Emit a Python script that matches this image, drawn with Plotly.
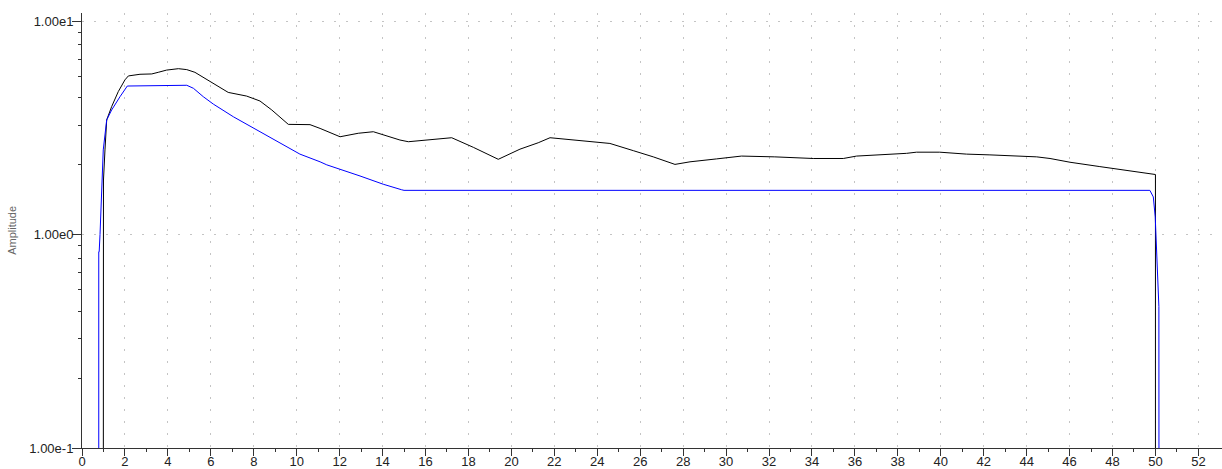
import plotly.graph_objects as go

# Frequency axis (x) and amplitude readings (y, log scale)
black_x = [0.99, 0.99, 1.0, 1.07, 1.15, 1.38, 1.69, 2.0, 2.16, 2.70, 3.25, 3.55, 3.94, 4.49,
           4.88, 5.26, 5.81, 6.35, 6.81, 7.67, 8.29, 8.84, 9.61, 10.62, 11.09, 12.02, 12.87,
           13.57, 14.81, 15.20, 16.13, 17.22, 18.23, 19.39, 20.40, 21.25, 21.80, 22.58, 23.43,
           24.59, 25.68, 26.61, 27.62, 28.32, 29.56, 30.72, 32.27, 34.06, 35.46, 36.08, 38.41,
           38.87, 39.95, 41.2, 42.29, 43.30, 44.47, 45.09, 46.02, 47.41, 48.03, 49.28, 50.0, 50.0]
black_y = [0.01, 1.0, 1.8, 2.49, 3.44, 3.97, 4.67, 5.3, 5.53, 5.63, 5.65, 5.75, 5.89, 5.98,
           5.92, 5.75, 5.33, 4.92, 4.63, 4.45, 4.22, 3.83, 3.28, 3.27, 3.14, 2.87, 2.98,
           3.03, 2.77, 2.72, 2.77, 2.84, 2.56, 2.25, 2.51, 2.69, 2.84, 2.79, 2.74,
           2.67, 2.47, 2.31, 2.13, 2.19, 2.26, 2.33, 2.31, 2.27, 2.27, 2.33, 2.40,
           2.43, 2.43, 2.38, 2.36, 2.34, 2.31, 2.27, 2.18, 2.08, 2.04, 1.96, 1.91, 0.01]

blue_x = [0.78, 0.78, 0.80, 0.84, 0.92, 0.99, 1.15, 1.38, 1.77, 2.11, 4.88, 5.19, 5.65, 6.12,
          7.05, 8.29, 9.53, 10.15, 11.09, 11.40, 12.95, 14.03, 14.89, 15.0, 49.74, 49.9,
          49.99, 50.02, 50.05, 50.10, 50.16, 50.17]
blue_y = [0.01, 0.83, 0.83, 1.0, 1.67, 2.49, 3.44, 3.83, 4.42, 4.96, 5.0, 4.84, 4.42, 4.08,
          3.56, 3.03, 2.56, 2.38, 2.19, 2.12, 1.88, 1.72, 1.62, 1.61, 1.61, 1.50,
          1.21, 1.0, 0.80, 0.60, 0.46, 0.01]

x_ticks = list(range(0, 53, 2))
x_minor = list(range(1, 53, 2))
y_ticks = [0.1, 1, 10]
y_ticktext = ["1.00e-1", "1.00e0", "1.00e1"]
y_minor = [1 + 1.125 * k for k in range(1, 8)] + [10 + 11.25 * k for k in range(1, 8)] \
    + [0.1 + 0.1125 * k for k in range(1, 8)]

font_name = "Liberation Sans, Arial, sans-serif"

fig = go.Figure()
fig.add_trace(go.Scatter(x=black_x, y=black_y, mode="lines",
                         line=dict(color="#000000", width=1), showlegend=False))
fig.add_trace(go.Scatter(x=blue_x, y=blue_y, mode="lines",
                         line=dict(color="#0000ff", width=1), showlegend=False))

grid_style = dict(gridcolor="#c4c4c4", gridwidth=1, griddash="2px,10px")

fig.update_xaxes(
    range=[0, 53.1], tickmode="array", tickvals=x_ticks, automargin=False,
    ticks="outside", ticklen=7, tickwidth=1, tickcolor="#333333",
    showline=True, linecolor="#333333", linewidth=1,
    showgrid=True, zeroline=False, ticklabelstandoff=-6,
    tickfont=dict(family=font_name, size=13, color="#222222"),
    minor=dict(tickmode="array", tickvals=x_minor, ticks="outside", ticklen=3,
               tickcolor="#333333", showgrid=False),
    **grid_style,
)
fig.update_yaxes(
    type="log", range=[-1, 1.0375], tickmode="array", tickvals=y_ticks, ticktext=y_ticktext,
    automargin=False,
    ticks="outside", ticklen=9, tickwidth=1, tickcolor="#333333",
    showline=True, linecolor="#333333", linewidth=1,
    showgrid=True, zeroline=False, ticklabelstandoff=-4,
    tickfont=dict(family=font_name, size=13, color="#222222"),
    minor=dict(tickmode="array", tickvals=y_minor, ticks="outside", ticklen=3,
               tickcolor="#333333", showgrid=False),
    **grid_style,
)

fig.add_annotation(text="Amplitude", xref="paper", yref="paper",
                   x=-0.062, y=0.5, xanchor="center", yanchor="middle",
                   textangle=-90, showarrow=False,
                   font=dict(family=font_name, size=11, color="#666666"))

fig.update_layout(
    width=1222, height=469,
    margin=dict(l=82, r=0, t=13, b=21),
    plot_bgcolor="white", paper_bgcolor="white",
)

fig.write_html("out.html")
